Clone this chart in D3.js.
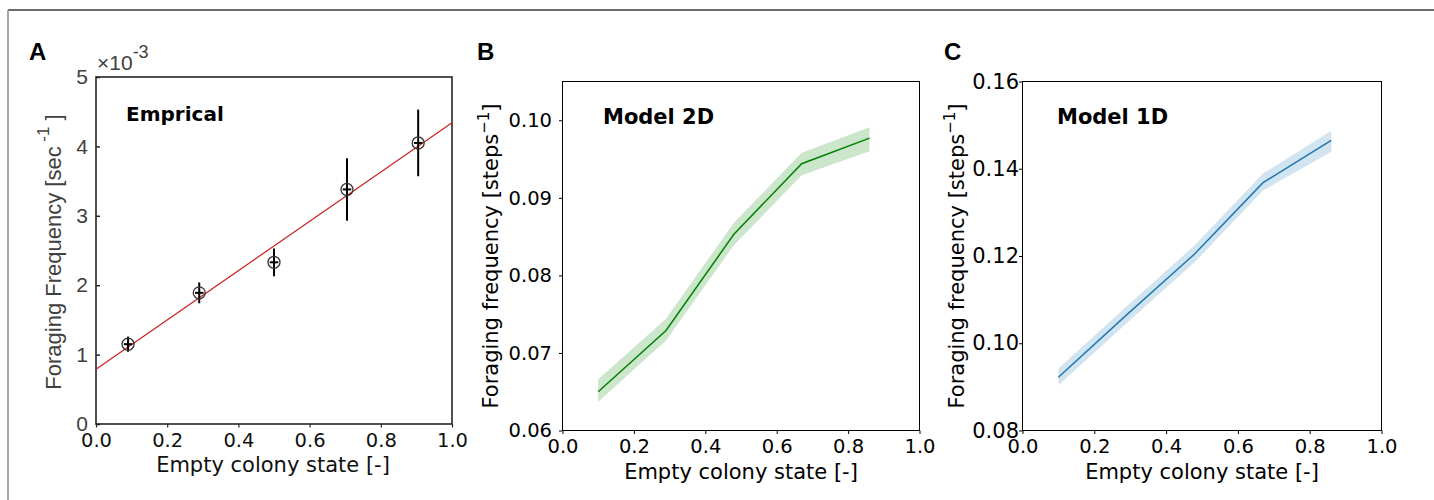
<!DOCTYPE html>
<html lang="en">
  <head>
    <meta charset="UTF-8" />
    <title>Foraging frequency vs empty colony state</title>
    <script src="https://d3js.org/d3.v7.min.js"></script>
    <style>
      body {
        margin: 0;
        background: #fff;
      }
      svg text {
        font-family: "DejaVu Sans", sans-serif;
      }
    </style>
  </head>
  <body>
    <div id="chart"></div>

    <script>
      // ---- panel A : empirical data (values in units of 1e-3 sec^-1)
      const empX = [0.09, 0.29, 0.5, 0.705, 0.905];
      const empY = [1.15, 1.89, 2.33, 3.38, 4.05];
      const empYErr = [0.11, 0.15, 0.2, 0.45, 0.48];
      const empXErr = [0.012, 0.012, 0.012, 0.012, 0.012];
      const fitX = [0, 1];
      const fitY = [0.79, 4.34];
      const empXTicks = [0, 0.2, 0.4, 0.6, 0.8, 1.0];
      const empYTicks = [0, 1, 2, 3, 4, 5];

      // ---- panels B and C : model runs
      const modelX = [0.1, 0.29, 0.48, 0.67, 0.86];
      const model2D = [0.065, 0.0729, 0.0853, 0.0944, 0.0977];
      const model2DLow = [0.0637, 0.0716, 0.0839, 0.0929, 0.096];
      const model2DHigh = [0.0666, 0.0744, 0.0868, 0.0958, 0.0991];
      const model1D = [0.0922, 0.1065, 0.1205, 0.1368, 0.1465];
      const model1DLow = [0.0904, 0.1046, 0.1186, 0.135, 0.1439];
      const model1DHigh = [0.0942, 0.1085, 0.1225, 0.1389, 0.1487];
      const modelXTicks = [0, 0.2, 0.4, 0.6, 0.8, 1.0];
      const model2DTicks = [0.06, 0.07, 0.08, 0.09, 0.1];
      const model1DTicks = [0.08, 0.1, 0.12, 0.14, 0.16];

      const width = 1434;
      const height = 500;

      const svg = d3
        .select("#chart")
        .append("svg")
        .attr("width", width)
        .attr("height", height);

      // outer figure frame (only top and left edges are visible)
      svg.append("line")
        .attr("x1", 8).attr("x2", width).attr("y1", 10).attr("y2", 10)
        .attr("stroke", "#3a3a3a").attr("stroke-width", 1.5);
      svg.append("line")
        .attr("x1", 8).attr("x2", 8).attr("y1", 10).attr("y2", height)
        .attr("stroke", "#8a8a8a").attr("stroke-width", 1.5);

      // panel letters
      [["A", 29], ["B", 477], ["C", 944]].forEach(([t, x]) => {
        svg.append("text")
          .attr("x", x).attr("y", 60)
          .style("font-family", "'Liberation Sans', Arial, sans-serif")
          .style("font-weight", "bold")
          .style("font-size", "24px")
          .text(t);
      });

      // ================= panel A (matlab look) =================
      const xA = d3.scaleLinear().domain([0, 1]).range([96, 452]);
      const yA = d3.scaleLinear().domain([0, 5]).range([424, 77]);
      const gA = svg.append("g");

      const axA_x = gA.append("g")
        .attr("transform", `translate(0,${yA(0)})`)
        .call(d3.axisBottom(xA).tickValues(empXTicks).tickFormat(d3.format(".1f")).tickSize(3.5));
      axA_x.select(".domain").remove();
      axA_x.selectAll("line").attr("stroke", "#262626").attr("stroke-width", 1.2);
      axA_x.selectAll("text")
        .attr("dy", null).attr("y", 22.7)
        .style("font-size", "19.5px").attr("fill", "#111");

      const axA_y = gA.append("g")
        .attr("transform", `translate(${xA(0)},0)`)
        .call(d3.axisLeft(yA).tickValues(empYTicks).tickFormat(d3.format("d")).tickSize(-4).tickPadding(8));
      axA_y.select(".domain").remove();
      axA_y.selectAll("line").attr("stroke", "#262626").attr("stroke-width", 1.5);
      axA_y.selectAll("text")
        .style("font-family", "'Liberation Sans', Arial, sans-serif")
        .style("font-size", "21px").attr("fill", "#404040");

      gA.append("rect")
        .attr("x", xA(0)).attr("y", yA(5))
        .attr("width", xA(1) - xA(0)).attr("height", yA(0) - yA(5))
        .attr("fill", "none").attr("stroke", "#262626").attr("stroke-width", 1.6);

      // exponent
      const expo = gA.append("text")
        .attr("x", 97).attr("y", 70)
        .style("font-family", "'Liberation Sans', Arial, sans-serif")
        .style("font-size", "21px").attr("fill", "#404040");
      expo.append("tspan").text("\u00d710");
      expo.append("tspan").attr("dy", -12).style("font-size", "18px").text("-3");

      // y label
      const ylA = gA.append("text")
        .attr("transform", `translate(61,252) rotate(-90)`)
        .attr("text-anchor", "middle")
        .style("font-family", "'Liberation Sans', Arial, sans-serif")
        .style("font-size", "22px").attr("fill", "#404040");
      ylA.append("tspan").text("Foraging Frequency [sec");
      ylA.append("tspan").attr("dy", -12).style("font-size", "17px").text(" -1");
      ylA.append("tspan").attr("dy", 12).text(" ]");

      gA.append("text")
        .attr("x", 273).attr("y", 471.7).attr("text-anchor", "middle")
        .style("font-size", "21px").attr("fill", "#111")
        .text("Empty colony state [-]");

      gA.append("text")
        .attr("x", 126).attr("y", 120.5)
        .style("font-size", "20px").style("font-weight", "bold")
        .text("Emprical");

      // fit line
      gA.append("line")
        .attr("x1", xA(fitX[0])).attr("y1", yA(fitY[0]))
        .attr("x2", xA(fitX[1])).attr("y2", yA(fitY[1]))
        .attr("stroke", "#cc1f1f").attr("stroke-width", 1.2);

      const pts = empX.map((x, i) => ({ x, y: empY[i], ey: empYErr[i], ex: empXErr[i] }));
      const ptG = gA.selectAll("g.pt").data(pts).join("g").attr("class", "pt");
      ptG.append("line")
        .attr("x1", (d) => xA(d.x)).attr("x2", (d) => xA(d.x))
        .attr("y1", (d) => yA(d.y + d.ey)).attr("y2", (d) => yA(d.y - d.ey))
        .attr("stroke", "#000").attr("stroke-width", 2);
      ptG.append("line")
        .attr("x1", (d) => xA(d.x - d.ex)).attr("x2", (d) => xA(d.x + d.ex))
        .attr("y1", (d) => yA(d.y)).attr("y2", (d) => yA(d.y))
        .attr("stroke", "#000").attr("stroke-width", 2);
      ptG.append("circle")
        .attr("cx", (d) => xA(d.x)).attr("cy", (d) => yA(d.y)).attr("r", 6)
        .attr("fill", "none").attr("stroke", "#333").attr("stroke-width", 1.3);

      // ================= panels B and C (matplotlib look) =================
      function modelPanel(opts) {
        const x = d3.scaleLinear().domain([0, 1]).range([opts.left, opts.right]);
        const y = d3.scaleLinear().domain(opts.yDomain).range([430.5, 81.5]);
        const g = svg.append("g");

        const band = opts.mean.map((m, i) => ({ x: modelX[i], m, lo: opts.low[i], hi: opts.high[i] }));
        g.append("path")
          .datum(band)
          .attr("fill", opts.color).attr("fill-opacity", 0.2)
          .attr("d", d3.area().x((d) => x(d.x)).y0((d) => y(d.lo)).y1((d) => y(d.hi)));
        g.append("path")
          .datum(band)
          .attr("fill", "none").attr("stroke", opts.color).attr("stroke-width", 1.5)
          .attr("d", d3.line().x((d) => x(d.x)).y((d) => y(d.m)));

        const ax = g.append("g")
          .attr("transform", `translate(0,430.5)`)
          .call(d3.axisBottom(x).tickValues(modelXTicks).tickFormat(d3.format(".1f")).tickSize(3.5));
        ax.select(".domain").remove();
        ax.selectAll("text").attr("dy", null).attr("y", 22.3).style("font-size", "19.5px").attr("fill", "#000");

        const ay = g.append("g")
          .attr("transform", `translate(${opts.left},0)`)
          .call(d3.axisLeft(y).tickValues(opts.yTicks).tickFormat(d3.format(".2f")).tickSize(3.5).tickPadding(opts.yPad));
        ay.select(".domain").remove();
        ay.selectAll("text").style("font-size", opts.yFont).attr("fill", "#000");

        g.append("rect")
          .attr("x", opts.left).attr("y", 81.5)
          .attr("width", opts.right - opts.left).attr("height", 430.5 - 81.5)
          .attr("fill", "none").attr("stroke", "#000").attr("stroke-width", 1);

        const yl = g.append("text")
          .attr("transform", `translate(${opts.ylabelX},256) rotate(-90)`)
          .attr("text-anchor", "middle")
          .style("font-size", "21px");
        yl.append("tspan").text("Foraging frequency [steps");
        yl.append("tspan").attr("dy", -9).style("font-size", "15px").text("\u22121");
        yl.append("tspan").attr("dy", 9).text("]");

        g.append("text")
          .attr("x", (opts.left + opts.right) / 2).attr("y", 479).attr("text-anchor", "middle")
          .style("font-size", "21px")
          .text("Empty colony state [-]");

        g.append("text")
          .attr("x", opts.titleX).attr("y", 124)
          .style("font-size", "21px").style("font-weight", "bold")
          .text(opts.title);
      }

      modelPanel({
        left: 562.5, right: 919.5, yDomain: [0.06, 0.105], yTicks: model2DTicks,
        mean: model2D, low: model2DLow, high: model2DHigh, color: "#008000",
        ylabelX: 498, titleX: 603, title: "Model 2D", yPad: 7, yFont: "19.5px",
      });
      modelPanel({
        left: 1022.5, right: 1381.5, yDomain: [0.08, 0.16], yTicks: model1DTicks,
        mean: model1D, low: model1DLow, high: model1DHigh, color: "#1f77b4",
        ylabelX: 964, titleX: 1057, title: "Model 1D", yPad: 0, yFont: "21px",
      });
    </script>
  </body>
</html>
